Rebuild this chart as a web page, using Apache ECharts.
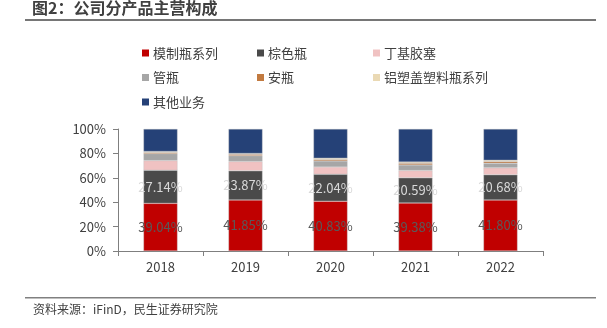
<!DOCTYPE html>
<html><head><meta charset="utf-8">
<script src="https://cdn.jsdelivr.net/npm/echarts@6/dist/echarts.min.js"></script>
<style>html,body{margin:0;padding:0;background:#fff}#c{width:607px;height:328px}</style>
</head><body><div id="c"></div>
<script>
var categories = ['2018', '2019', '2020', '2021', '2022'];
var seriesNames = ['模制瓶系列', '棕色瓶', '丁基胶塞', '管瓶', '安瓶', '铝塑盖塑料瓶系列', '其他业务'];
var moldedBottle = [39.04, 41.85, 40.83, 39.38, 41.80];
var brownBottle = [27.14, 23.87, 22.04, 20.59, 20.68];
var butylStopper = [8.0, 7.7, 6.0, 6.0, 5.7];
var tubeBottle = [5.6, 4.6, 4.9, 4.6, 3.8];
var ampoule = [1.0, 1.3, 1.3, 1.3, 1.4];
var capPlastic = [0.8, 0.6, 1.0, 1.0, 1.0];
var others = [18.42, 20.08, 23.93, 27.13, 25.62];
var yTicks = ['0%', '20%', '40%', '60%', '80%', '100%'];
var colors = ['#C00000', '#4A4A4A', '#F0C2C2', '#A6A6A6', '#C27A40', '#EAD9B4', '#254177'];

var values = [moldedBottle, brownBottle, butylStopper, tubeBottle, ampoule, capPlastic, others];
var FONT = 'Noto Sans CJK SC';
var labelColors = ['#595959', '#D9D9D9'];
var series = seriesNames.map(function (n, i) {
  return {
    name: n, type: 'bar', stack: 'a', barWidth: 34, data: values[i],
    itemStyle: { color: colors[i], borderColor: 'rgba(190,190,190,0.7)', borderWidth: 0.5 },
    label: {
      show: i < 2, position: 'inside', color: labelColors[i] || '#fff',
      fontFamily: FONT, fontSize: 13,
      formatter: function (p) { return p.value.toFixed(2) + '%'; }
    }
  };
});
function legend(items, left) {
  return {
    data: items, left: left, top: 46, orient: 'vertical', itemWidth: 7, itemHeight: 7,
    itemGap: 10.5, icon: 'rect',
    itemStyle: { borderWidth: 0 },
    textStyle: { fontFamily: FONT, fontSize: 13, color: '#404040', lineHeight: 14, padding: [0, 0, 0, -1] },
    padding: 0
  };
}
var chart = echarts.init(document.getElementById('c'));
chart.setOption({
  animation: false,
  title: { text: '图2：公司分产品主营构成', left: 32, top: 0, padding: 0,
    textStyle: { fontFamily: FONT, fontSize: 16, fontWeight: 'bold', color: '#404040' } },
  legend: [
    legend([seriesNames[0], seriesNames[3], seriesNames[6]], 142),
    legend([seriesNames[1], seriesNames[4]], 257),
    legend([seriesNames[2], seriesNames[5]], 373)
  ],
  grid: { left: 118, right: 64, top: 129, bottom: 77 },
  xAxis: {
    type: 'category', data: categories,
    axisLine: { lineStyle: { color: '#7F7F7F', width: 1 } },
    axisTick: { show: true, length: 5, lineStyle: { color: '#7F7F7F' } },
    axisLabel: { color: '#404040', fontFamily: FONT, fontSize: 13, margin: 10 }
  },
  yAxis: {
    type: 'value', min: 0, max: 100, interval: 20,
    axisLine: { show: true, lineStyle: { color: '#7F7F7F', width: 1 } },
    axisTick: { show: true, length: 5, lineStyle: { color: '#7F7F7F' } },
    splitLine: { show: false },
    axisLabel: { color: '#404040', fontFamily: FONT, fontSize: 13, margin: 12,
      formatter: function (v) { return yTicks[Math.round(v / 20)]; } }
  },
  graphic: [
    { type: 'rect', shape: { x: 25, y: 19, width: 571, height: 2 }, style: { fill: '#767676' } },
    { type: 'rect', shape: { x: 25, y: 297, width: 571, height: 1.5 }, style: { fill: '#808080' } },
    { type: 'text', left: 33, top: 303, style: { text: '资料来源：iFinD，民生证券研究院', fontFamily: FONT, fontSize: 12, fill: '#404040' } }
  ],
  series: series
});
</script></body></html>
